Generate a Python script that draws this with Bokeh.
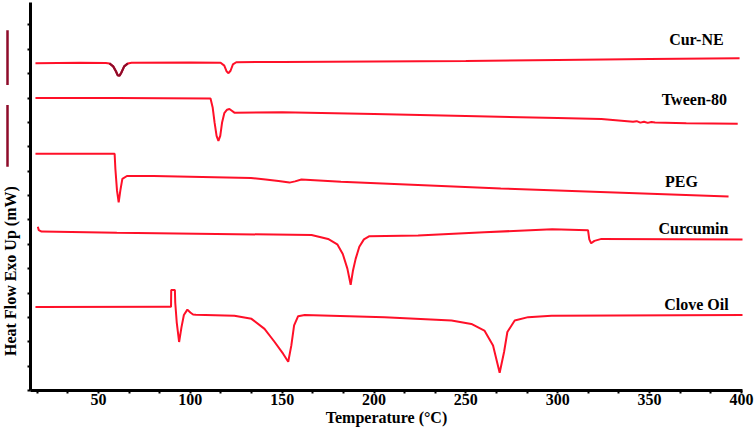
import numpy as np
from bokeh.plotting import figure
from bokeh.layouts import row
from bokeh.models import Range1d, SingleIntervalTicker, CustomLabelingPolicy
from bokeh.core.properties import value
from bokeh.embed import file_html
from bokeh.resources import INLINE

FONT = "Liberation Serif"
RED = "#ff1028"
DARK = "#8e0b2a"

# ---------------- data (temperature in °C, heat flow in arbitrary offset units) ----------------
cur_ne_T = [15.7, 40, 54, 56, 58, 59.5, 60.5, 61.5, 62.5, 64, 66, 68, 100, 116.5, 118.5, 119.7,
            120.8, 121.9, 123.2, 125, 150, 200, 250, 300, 350, 399]
cur_ne_y = [13.43, 13.45, 13.44, 13.42, 13.3, 13.1, 12.93, 12.92, 13.05, 13.3, 13.42, 13.45, 13.46,
            13.45, 13.33, 13.1, 13.02, 13.12, 13.38, 13.47, 13.48, 13.50, 13.52, 13.56, 13.60, 13.63]

tween_T = [15.7, 60, 111.0, 112.2, 113.2, 114.3, 115.3, 116.3, 117.3, 118.5, 120, 121.3, 122.6, 124,
           150, 200, 250, 300, 323.8, 341, 343, 345, 347, 349, 351, 353, 370, 398]
tween_y = [12.0, 12.0, 11.98, 11.6, 11.0, 10.45, 10.24, 10.45, 11.0, 11.38, 11.52, 11.55, 11.48, 11.40,
           11.42, 11.34, 11.26, 11.18, 11.14, 11.03, 11.05, 10.99, 11.03, 10.98, 11.02, 11.0,
           10.97, 10.94]

peg_T = [15.7, 58.8, 59.2, 60.1, 61.0, 61.9, 63.0, 65.5, 80, 133, 141, 148, 154, 157, 160.5, 182, 269, 393]
peg_y = [9.71, 9.71, 9.1, 8.2, 7.72, 8.2, 8.68, 8.80, 8.80, 8.72, 8.66, 8.60, 8.53, 8.58, 8.66, 8.57,
         8.29, 7.96]

curcumin_T = [17.0, 17.5, 19, 60, 166, 175, 180, 183, 185.5, 187.3, 188.5, 190, 192, 194.5, 197.5,
              224, 260, 297, 316.5, 317.2, 318.2, 320, 323.8, 401]
curcumin_y = [6.72, 6.58, 6.52, 6.47, 6.38, 6.22, 6.0, 5.6, 5.0, 4.34, 4.9, 5.4, 5.9, 6.2, 6.33,
              6.36, 6.49, 6.62, 6.58, 6.20, 6.04, 6.14, 6.22, 6.20]

clove_T = [15.7, 88.6, 89.5, 89.6, 91.6, 91.8, 92.6, 93.9, 95.2, 96.5, 98.4, 100, 101.5, 103, 124,
           133.3, 140.4, 145.8, 150.5, 153.3, 155, 156.5, 158.7, 162.3, 205.7, 242.2, 253, 260.1,
           264.8, 268.4, 270.8, 272.6, 276.6, 283.9, 296.6, 401]
clove_y = [3.43, 3.44, 3.44, 4.12, 4.12, 3.6, 2.8, 1.99, 2.6, 3.1, 3.32, 3.2, 3.12, 3.11, 3.07,
           2.94, 2.53, 2.0, 1.51, 1.18, 1.85, 2.67, 3.05, 3.10, 3.01, 2.87, 2.73, 2.46,
           1.85, 0.73, 1.58, 2.40, 2.87, 3.01, 3.07, 3.10]

series_names = ["Cur-NE", "Tween-80", "PEG", "Curcumin", "Clove Oil"]
label_T = [375.5, 374.4, 367.4, 373.9, 375.5]
label_y = [14.41, 11.92, 8.57, 6.65, 3.51]

x_tick_step = 50
y_title = "Heat Flow Exo Up (mW)"
x_title = "Temperature (°C)"

Y_MAX = 15.92

# ---------------- main plot ----------------
p = figure(frame_width=712, frame_height=388,
           x_range=Range1d(13, 400.6), y_range=Range1d(0, Y_MAX),
           output_backend="svg", toolbar_location=None,
           min_border_left=0, min_border_right=13, min_border_top=2, min_border_bottom=0)
p.outline_line_color = None
p.grid.visible = False
p.background_fill_color = "white"

for T, y in [(cur_ne_T, cur_ne_y), (tween_T, tween_y), (peg_T, peg_y),
             (curcumin_T, curcumin_y), (clove_T, clove_y)]:
    p.line(T, y, line_color=RED, line_width=2)

# darker first melting dip of Cur-NE
sub = [(t, v) for t, v in zip(cur_ne_T, cur_ne_y) if 55 <= t <= 67]
p.line([s[0] for s in sub], [s[1] for s in sub], line_color=DARK, line_width=2.2)

p.text(x=label_T, y=label_y, text=series_names, text_font=value(FONT), text_font_style="bold",
       text_font_size="16px", text_align="center", text_baseline="middle", text_color="black")

xa = p.xaxis[0]
xa.ticker = SingleIntervalTicker(interval=x_tick_step, num_minor_ticks=3)
xa.axis_line_width = 3
xa.axis_line_color = "black"
xa.major_tick_out = 0
xa.major_tick_in = 0
xa.minor_tick_out = 3
xa.minor_tick_in = 0
xa.minor_tick_line_width = 2
xa.major_label_text_font = FONT
xa.major_label_text_font_style = "bold"
xa.major_label_text_font_size = "16px"
xa.major_label_text_color = "black"
xa.major_label_standoff = 0
xa.axis_label = x_title
xa.axis_label_text_font = FONT
xa.axis_label_text_font_style = "bold"
xa.axis_label_text_font_size = "16px"
xa.axis_label_text_color = "black"
xa.axis_label_standoff = 1

ya = p.yaxis[0]
ya.ticker = SingleIntervalTicker(interval=1, num_minor_ticks=0)
ya.axis_line_width = 3
ya.axis_line_color = "black"
ya.major_tick_out = 3
ya.major_tick_in = 0
ya.major_tick_line_width = 2
ya.minor_tick_out = 0
ya.minor_tick_in = 0
ya.major_label_standoff = 0
ya.major_label_text_font_size = "1px"
ya.major_label_policy = CustomLabelingPolicy(code="""
    for (const i of indices)
        indices.unset(i)
    return indices
""")

# ---------------- left strip with y title ----------------
q = figure(width=23, frame_height=388, x_range=Range1d(0, 23), y_range=Range1d(0, Y_MAX),
           output_backend="svg", toolbar_location=None,
           min_border_left=0, min_border_right=0, min_border_top=2, min_border_bottom=0)
q.axis.visible = False
q.grid.visible = False
q.outline_line_color = None
q.segment(x0=[7, 7], y0=[14.78, 11.71], x1=[7, 7], y1=[12.53, 9.18], line_color=DARK, line_width=2.5)
q.text(x=[10], y=[4.9], text=[y_title], angle=np.pi / 2, text_font=value(FONT), text_font_style="bold",
       text_font_size="16px", text_align="center", text_baseline="middle", text_color="black")

layout = row(q, p)
open("out.html", "w").write(file_html(layout, INLINE))
